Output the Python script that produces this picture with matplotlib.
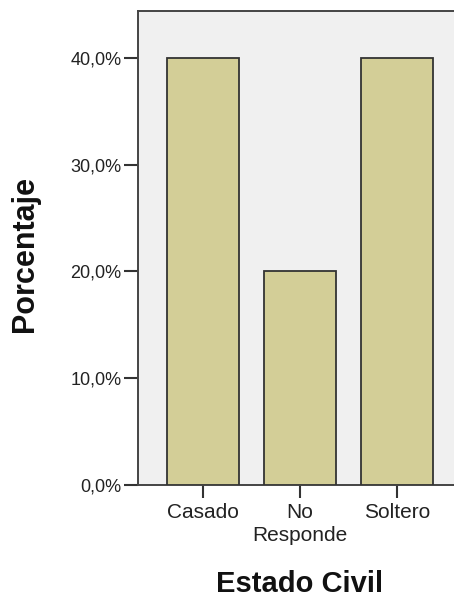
import matplotlib
matplotlib.use("Agg")
import matplotlib.pyplot as plt

categories = ["Casado", "No\nResponde", "Soltero"]
values = [40.0, 20.0, 40.0]
yticks = [0, 10, 20, 30, 40]
ytick_labels = ["0,0%", "10,0%", "20,0%", "30,0%", "40,0%"]

plt.rcParams['font.family'] = ['Liberation Sans', 'DejaVu Sans']

W, H = 454, 599
fig = plt.figure(figsize=(W/100, H/100), dpi=100)
fig.patch.set_facecolor("white")
ax = fig.add_axes([138/W, 1-485/H, (462-138)/W, (485-11)/H])
ax.set_facecolor("#f0f0f0")

x = list(range(len(categories)))
ax.bar(x, values, width=0.745, color="#d3ce97", edgecolor="#333333", linewidth=1.3, zorder=3)

ax.set_xlim(-0.67, 2.67)
ax.set_ylim(0, 44.4)
ax.set_yticks(yticks)
ax.set_yticklabels(ytick_labels, fontsize=13, color="#222222")
ax.set_xticks(x)
ax.set_xticklabels(categories, fontsize=15, color="#222222", linespacing=1.25)

for s in ["top", "left", "bottom", "right"]:
    ax.spines[s].set_color("#444444")
    ax.spines[s].set_linewidth(1.4)
ax.tick_params(axis="both", direction="out", length=10, width=1.5, color="#333333")
ax.tick_params(axis="y", pad=2)
ax.tick_params(axis="x", length=9.5, pad=3.5)

fig.text(25/W, 1-254/H, "Porcentaje", rotation=90, ha="center", va="center",
         fontsize=22, fontweight="bold", color="#111111")
fig.text(300/W, 1-592/H, "Estado Civil", ha="center", va="baseline",
         fontsize=21, fontweight="bold", color="#111111")

fig.savefig("out.png", dpi=100)
